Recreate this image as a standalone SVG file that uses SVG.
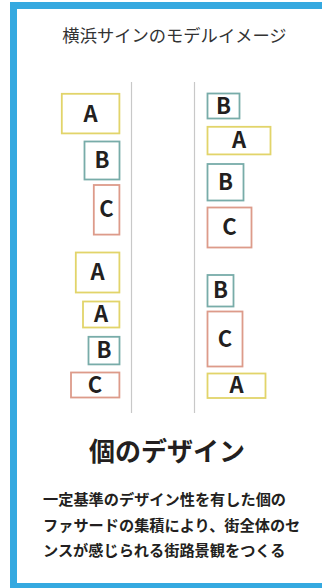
<svg xmlns="http://www.w3.org/2000/svg" width="322" height="588" viewBox="0 0 322 588">
<style>
.frame{fill:none;stroke:#35a9e0;stroke-width:7}
.div{stroke:#c8c8c8;stroke-width:1.2}
.bx{fill:#fff;stroke-width:1.8}
.ya{stroke:#e2d46a}
.tb{stroke:#78aca9}
.sc{stroke:#dd9b8a}
.lt{font-family:"Noto Sans CJK JP","Noto Sans",sans-serif;font-weight:700;font-size:22px;fill:#231f20;text-anchor:middle}
.title{font-family:"Noto Sans CJK JP",sans-serif;font-weight:400;font-size:17.3px;fill:#333;text-anchor:middle}
.head{font-family:"Noto Sans CJK JP",sans-serif;font-weight:700;font-size:26px;fill:#231f20;text-anchor:middle}
.para{font-family:"Noto Sans CJK JP",sans-serif;font-weight:700;font-size:15.2px;fill:#231f20}
</style>
<rect width="322" height="588" fill="#fff"/>
<rect class="frame" x="13.5" y="5.5" width="320" height="581"/>
<text class="title" x="174.5" y="42">横浜サインのモデルイメージ</text>
<g id="connectors">
<line class="div" x1="131.5" y1="82" x2="131.5" y2="413"/>
<line class="div" x1="194.5" y1="82" x2="194.5" y2="413"/>
</g>
<g id="L1"><rect class="bx ya" x="61.8" y="93.8" width="57.6" height="39.6"/><text class="lt" x="90.5" y="121.5">A</text></g>
<g id="L2"><rect class="bx tb" x="84.5" y="141.5" width="35" height="38"/><text class="lt" x="102" y="168">B</text></g>
<g id="L3"><rect class="bx sc" x="93.8" y="185" width="25.6" height="49.6"/><text class="lt" x="106.5" y="217">C</text></g>
<g id="L4"><rect class="bx ya" x="75.8" y="252.5" width="43.6" height="40"/><text class="lt" x="97.5" y="280">A</text></g>
<g id="L5"><rect class="bx ya" x="83" y="301.5" width="36.4" height="26"/><text class="lt" x="101" y="322">A</text></g>
<g id="L6"><rect class="bx tb" x="88.5" y="336.8" width="31" height="27.6"/><text class="lt" x="104" y="358">B</text></g>
<g id="L7"><rect class="bx sc" x="71" y="372.5" width="48.4" height="25"/><text class="lt" x="95" y="392.5">C</text></g>
<g id="R1"><rect class="bx tb" x="207.5" y="93.5" width="32" height="25"/><text class="lt" x="223.5" y="113.5">B</text></g>
<g id="R2"><rect class="bx ya" x="207.5" y="126.8" width="63" height="27.6"/><text class="lt" x="239" y="148">A</text></g>
<g id="R3"><rect class="bx tb" x="207.5" y="164" width="36" height="36.5"/><text class="lt" x="225.5" y="189.5">B</text></g>
<g id="R4"><rect class="bx sc" x="207.5" y="207.5" width="44" height="40"/><text class="lt" x="229.5" y="235">C</text></g>
<g id="R5"><rect class="bx tb" x="207.5" y="275" width="26" height="31.5"/><text class="lt" x="220.5" y="298">B</text></g>
<g id="R6"><rect class="bx sc" x="207.5" y="311.5" width="35" height="55"/><text class="lt" x="225" y="346.5">C</text></g>
<g id="R7"><rect class="bx ya" x="207.5" y="373.5" width="58" height="24.5"/><text class="lt" x="236.5" y="393">A</text></g>
<text class="head" x="167" y="461">個のデザイン</text>
<text class="para" x="43" y="505">一定基準のデザイン性を有した個の</text>
<text class="para" x="43" y="530.5">ファサードの集積により、街全体のセ</text>
<text class="para" x="43" y="556">ンスが感じられる街路景観をつくる</text>
</svg>
